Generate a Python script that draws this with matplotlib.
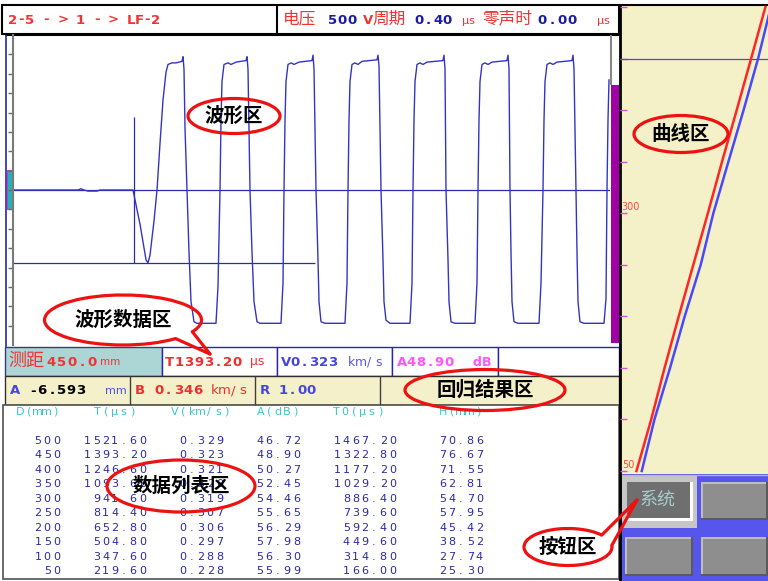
import numpy as np
import matplotlib
matplotlib.use("Agg")
import matplotlib.pyplot as plt
from matplotlib.patches import Rectangle, Ellipse, Arc

CJK = ['Noto Sans CJK SC', 'DejaVu Sans']
plt.rcParams['font.family'] = CJK

W, H = 768, 581

# header
route_label = "2-5 - > 1 - > LF-2"
voltage_v = 500
period_us = 0.40
zero_time_us = 0.00

# current reading
cur_dist_mm = 450.0
cur_t_us = 1393.20
cur_v_kms = 0.323
cur_a_db = 48.90

# regression result
reg_a_mm = -6.593
reg_b_kms = 0.346
reg_r = 1.00

# data list
col_heads = ["D(mm)", "T(μs)", "V(km/s)", "A(dB)", "T0(μs)", "H(mm)"]
d_mm = [500, 450, 400, 350, 300, 250, 200, 150, 100, 50]
t_us = [1521.60, 1393.20, 1246.60, 1093.60, 941.60, 814.40, 652.80, 504.80, 347.60, 219.60]
v_kms = [0.329, 0.323, 0.321, 0.320, 0.319, 0.307, 0.306, 0.297, 0.288, 0.228]
a_db = [46.72, 48.90, 50.27, 52.45, 54.46, 55.65, 56.29, 57.98, 56.30, 55.99]
t0_us = [1467.20, 1322.80, 1177.20, 1029.20, 886.40, 739.60, 592.40, 449.60, 314.80, 166.00]
h_mm = [70.86, 76.67, 71.55, 62.81, 54.70, 57.95, 45.42, 38.52, 27.74, 25.30]

# waveform (sample index, amplitude %)
wave_x = [0, 65, 68, 71, 75, 84, 87, 120, 127, 133, 135, 137, 141, 144, 147, 150, 153, 155, 159, 163,
          169, 170, 171, 172, 174, 176, 178, 181, 184, 203,
          205, 207, 208, 209, 211, 215, 218, 223, 233, 234, 235, 236, 237, 239, 241, 244, 247, 268,
          270, 271, 272, 273, 275, 278, 281, 286, 299, 300, 301, 302, 303, 305, 306, 308, 312, 332,
          334, 335, 336, 337, 339, 342, 345, 349, 364, 365, 366, 367, 368, 370, 371, 373, 377, 397,
          399, 400, 401, 402, 404, 407, 410, 414, 430, 431, 432, 433, 435, 436, 438, 442, 462,
          464, 465, 466, 467, 469, 472, 475, 479, 494, 495, 496, 497, 498, 499, 501, 505, 526,
          528, 530, 531, 532, 534, 537, 540, 544, 559, 560, 561, 563, 564, 565, 567, 571, 591,
          593, 594, 595, 596]
wave_a = [0, 0, 0.8, 0, -0.7, -0.7, 0, 0, -22, -45, -47, -42, -20, 0, 30, 58, 76, 81, 82, 82,
          83, 86, 78, 40, 0, -40, -72, -85, -86, -86,
          -62, 0, 45, 70, 81, 82, 81, 82.5, 83.5, 86, 78, 40, 0, -40, -72, -85, -86, -86,
          -60, 0, 45, 70, 81, 82, 81, 82.5, 83.5, 87, 78, 40, 0, -45, -72, -85, -86, -86,
          -60, 0, 45, 70, 81, 82, 81, 83, 84, 87, 80, 40, 0, -45, -72, -84, -86, -86,
          -60, 0, 45, 70, 81, 82, 81, 82.5, 83.5, 87, 78, 0, -45, -72, -85, -86, -86,
          -60, 0, 45, 70, 81, 82, 81, 82.5, 83.5, 87, 78, 0, -40, -72, -85, -86, -86,
          -60, 0, 45, 70, 81, 82, 81, 82.5, 83.5, 87, 78, 0, -40, -72, -85, -86, -86,
          -70, 0, 45, 71]
gate_x = 121
gate_end = 302
gate_lo = -47
gate_hi = 47

# curve panel
curve_ticks = [50, 100, 150, 200, 250, 300, 350, 400, 450, 500]
curve_labels = [300, 50]

RED = '#f03434'
NAVY = '#1c1ca2'

fig = plt.figure(figsize=(W / 100, H / 100), dpi=100)
bg = fig.add_axes([0, 0, 1, 1])
bg.set_xlim(0, W)
bg.set_ylim(H, 0)
bg.axis('off')


def box(x0, y0, x1, y1, fc='none', ec='none', lw=1.0, z=1):
    bg.add_patch(Rectangle((x0, y0), x1 - x0, y1 - y0, fc=fc, ec=ec, lw=lw, zorder=z))


def vline(x, y0, y1, c, lw=1.0, z=3):
    bg.plot([x, x], [y0, y1], color=c, lw=lw, zorder=z, solid_capstyle='butt')


def hline(y, x0, x1, c, lw=1.0, z=3):
    bg.plot([x0, x1], [y, y], color=c, lw=lw, zorder=z, solid_capstyle='butt')


def spaced(x, y, s, pitch, ha='left', **kw):
    # fixed pitch text like the instrument's screen font
    if ha == 'right':
        x -= pitch * len(s)
    for i, ch in enumerate(s):
        if ch != ' ':
            bg.text(x + (i + 0.5) * pitch, y, ch, ha='center', va='center',
                    family='DejaVu Sans', zorder=5, **kw)


def sub_axes(x0, y0, x1, y1):
    return fig.add_axes([x0 / W, 1 - y1 / H, (x1 - x0) / W, (y1 - y0) / H])


# ---- top bar
box(2, 5, 619, 34, fc='white', ec='black', lw=1.5)
hline(5, 619, 768, 'black', 1.5)
vline(277, 5, 34, 'black', 1.5)
spaced(8, 20, route_label, 8.45, color=RED, fontsize=9.5, weight='bold')
bg.text(283, 19, "电压", fontsize=12, color=RED, va='center', zorder=5)
spaced(328, 21, f"{voltage_v}", 9.5, color=NAVY, fontsize=9.5, weight='bold')
spaced(363, 21, "V", 9.5, color=RED, fontsize=9.5, weight='bold')
bg.text(372, 19, "周期", fontsize=12, color=RED, va='center', zorder=5)
spaced(414, 21, f"{period_us:.2f}", 9.5, color=NAVY, fontsize=9.5, weight='bold')
bg.text(462, 21, "μs", fontsize=8, color=RED, va='center', family='DejaVu Sans', zorder=5)
bg.text(482, 19, "零声时", fontsize=12, color=RED, va='center', zorder=5)
spaced(537, 21, f"{zero_time_us:.2f}", 10, color=NAVY, fontsize=9.5, weight='bold')
bg.text(597, 21, "μs", fontsize=8, color=RED, va='center', family='DejaVu Sans', zorder=5)

# ---- waveform frame
box(5, 35, 619, 347, fc='white')
hline(35, 5, 619, 'black', 1.5)
vline(5.5, 35, 347, '#2626b0', 1.2)
box(7, 170, 13, 209, fc='#22b4b4', ec='#c040c0', lw=0.8, z=2)
vline(610.5, 35, 85, '#888888', 1.5)
box(611, 85, 619, 343, fc='#a000a4', z=2)

ax_w = sub_axes(13, 35, 610, 345)
ax_w.set_xlim(0, 597)
ax_w.set_ylim(-100, 100)
ax_w.set_facecolor('none')
for s in ['top', 'right', 'bottom']:
    ax_w.spines[s].set_visible(False)
ax_w.spines['left'].set_color('#7a7a7a')
ax_w.spines['left'].set_linewidth(1.5)
ax_w.set_xticks([])
ax_w.set_yticks(np.arange(-87.5, 88, 12.5))
ax_w.tick_params(axis='y', direction='out', length=3.5, width=1, color='#6a6a6a', labelleft=False)
ax_w.axhline(0, color='#2a2ab0', lw=0.9)
ax_w.vlines(gate_x, gate_lo, gate_hi, color='#2a2ab0', lw=0.9)
ax_w.hlines(gate_lo, 0, gate_end, color='#2a2ab0', lw=0.9)
ax_w.plot(wave_x, wave_a, color='#3434c4', lw=1.0)

# ---- current reading row
box(5, 347, 162, 376, fc='#acd5d5', ec='#3a3a7a', lw=1)
for x0, x1 in [(162, 277), (277, 392), (392, 498), (498, 619)]:
    box(x0, 347, x1, 376, fc='white', ec='#2626b4', lw=1)
bg.text(8, 361, "测距", fontsize=13, color=RED, va='center', zorder=5)
spaced(46, 362, f"{cur_dist_mm:.1f}", 10.2, color=RED, fontsize=9.5, weight='bold')
bg.text(100, 362, "mm", fontsize=7.5, color=RED, va='center', family='DejaVu Sans', zorder=5)
spaced(165, 362, f"T{cur_t_us:.2f}", 9.6, color='#ec3030', fontsize=9.5, weight='bold')
bg.text(250, 362, "μs", fontsize=9, color=RED, va='center', family='DejaVu Sans', zorder=5)
spaced(281, 362, f"V{cur_v_kms:.3f}", 9.4, color='#4545dd', fontsize=9.5, weight='bold')
spaced(347, 362, "km/s", 9.0, color='#5a5ad8', fontsize=9)
spaced(397, 362, f"A{cur_a_db:.2f}", 9.4, color='#ff55ff', fontsize=9.5, weight='bold')
spaced(472, 362, "dB", 10, color='#ff55ff', fontsize=9, weight='bold')

# ---- regression row
box(5, 376, 619, 405, fc='#f4f0c9', ec='#303030', lw=1)
for x in [130, 255, 380]:
    vline(x, 376, 405, '#404040', 1)
spaced(10, 391, "A", 9.5, color='#4646dd', fontsize=9.5, weight='bold')
spaced(28, 391, f"{reg_a_mm:.3f}", 9.5, color='black', fontsize=9.5, weight='bold')
bg.text(105, 391, "mm", fontsize=8, color='#5050dd', va='center', family='DejaVu Sans', zorder=5)
spaced(135, 391, f"B {reg_b_kms:.3f}", 9.6, color='#ec3030', fontsize=9.5, weight='bold')
spaced(210, 391, "km/s", 9.3, color='#ec3030', fontsize=9.5)
spaced(260, 391, f"R {reg_r:.2f}", 9.3, color='#4646dd', fontsize=9.5, weight='bold')

# ---- data list
box(3, 405, 619, 579, fc='white', ec='#505050', lw=1.2)
head_x = [16, 93, 170, 256, 332, 439]
for hx, hd in zip(head_x, col_heads):
    spaced(hx, 412, hd, 8.7, color='#3cc6c6', fontsize=8)
right_x = [61, 147, 224, 301, 397, 484]
for i in range(len(d_mm)):
    y = 441 + i * 14.44
    cells = [f"{d_mm[i]}", f"{t_us[i]:.2f}", f"{v_kms[i]:.3f}", f"{a_db[i]:.2f}",
             f"{t0_us[i]:.2f}", f"{h_mm[i]:.2f}"]
    for rx, s in zip(right_x, cells):
        spaced(rx, y, s, 9.2, ha='right', color='#2a2aa6', fontsize=8)

# ---- curve panel
box(620, 5, 768, 474, fc='#f4f0c8')
vline(619.5, 5, 581, 'black', 2, z=4)
ax_c = sub_axes(620, 5, 768, 474)
ax_c.set_xlim(0, 1493)
ax_c.set_ylim(47.1, 501.9)
ax_c.set_facecolor('none')
for s in ax_c.spines.values():
    s.set_visible(False)
ax_c.set_xticks([])
ax_c.set_yticks(curve_ticks)
ax_c.tick_params(axis='y', direction='in', length=5, width=1, color='#e050e0', labelleft=False)
ax_c.axhline(cur_dist_mm, color='#4a4ad8', lw=0.9)
ax_c.plot(t0_us, d_mm, color='#ff2626', lw=1.8)
ax_c.plot(t_us, d_mm, color='#4848ff', lw=1.8)
for lab in curve_labels:
    ax_c.text(18, lab + 1, f"{lab}", fontsize=7, color='#ff4a4a', va='bottom', ha='left',
              family='DejaVu Sans')

# ---- buttons
box(620, 474, 768, 581, fc='#5656ec')
hline(474.5, 620, 768, '#b4b4d8', 1)


def button(x0, y0, x1, y1):
    box(x0, y0, x1, y1, fc='#5a5a5a', z=2)
    box(x0, y0, x1 - 2, y1 - 2, fc='#bdbdbd', z=2)
    box(x0 + 2, y0 + 2, x1 - 2, y1 - 2, fc='#8e8e8e', z=2)


box(622, 476, 697, 528, fc='#c6c6c6', z=2)
box(627, 482, 693, 521, fc='white', z=2)
box(627, 482, 690, 518, fc='#6f6f6f', z=2)
bg.text(658, 500, "系统", fontsize=13, color='#a6cccc', ha='center', va='center', zorder=5)
button(701, 482, 768, 520)
button(625, 537, 693, 576)
button(701, 537, 768, 576)

# ---- annotation overlay
ov = fig.add_axes([0, 0, 1, 1])
ov.set_xlim(0, W)
ov.set_ylim(H, 0)
ov.axis('off')
ANN = '#ee1111'


def oval(cx, cy, w, h, label):
    ov.add_patch(Ellipse((cx, cy), w, h, fill=False, ec=ANN, lw=2.3))
    ov.text(cx, cy, label, ha='center', va='center', fontsize=14, weight='bold', color='black')


def callout(cx, cy, w, h, p1, p2, tip, label):
    a, b = w / 2, h / 2

    def geo(p):
        r = np.radians(p)
        return np.degrees(np.arctan2(b * np.sin(r), a * np.cos(r)))

    ov.add_patch(Arc((cx, cy), w, h, theta1=geo(p2), theta2=geo(p1) + 360, ec=ANN, lw=2.3))
    for p in (p1, p2):
        r = np.radians(p)
        ov.plot([cx + a * np.cos(r), tip[0]], [cy + b * np.sin(r), tip[1]], color=ANN, lw=2.3,
                solid_capstyle='round')
    ov.text(cx, cy, label, ha='center', va='center', fontsize=14, weight='bold', color='black')


oval(234, 116, 92, 35, "波形区")
oval(681, 134, 94, 37, "曲线区")
oval(485, 390, 160, 41, "回归结果区")
oval(181, 486, 148, 52, "数据列表区")
callout(123, 320, 157, 50, 28, 48, (210, 354), "波形数据区")
callout(568, 547, 88, 37, -40, -5, (637, 500), "按钮区")

fig.savefig("out.png", dpi=100)
